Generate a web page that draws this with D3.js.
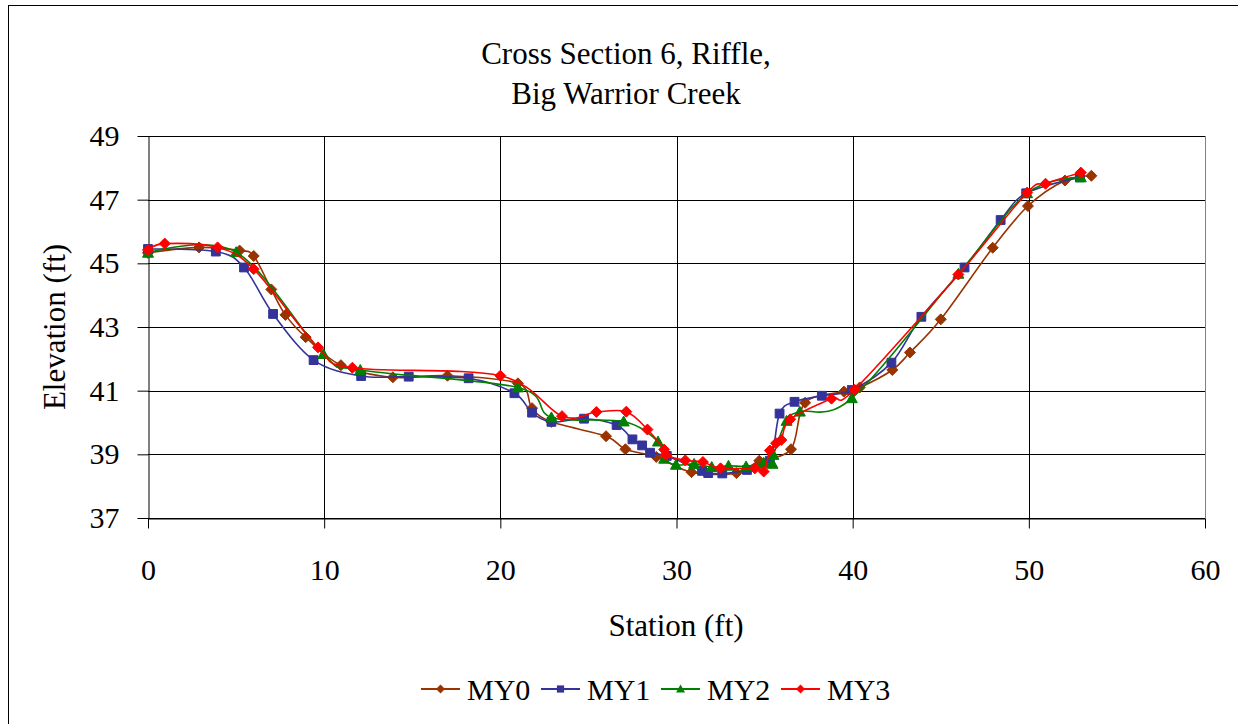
<!DOCTYPE html>
<html>
<head>
<meta charset="utf-8">
<script src="https://cdn.jsdelivr.net/npm/d3@7"></script>
<style>
  html, body { margin: 0; padding: 0; background: #fff; }
  svg, svg text { font-family: "Liberation Serif", "Times New Roman", Times, "DejaVu Serif", serif !important; }
</style>
</head>
<body>
<svg id="chart" width="1238" height="724"></svg>
<script>
// Station (ft), elevation (ft) pairs
const my0 = [[0,45.33],[2.9,45.5],[5.2,45.4],[6.0,45.23],[7.0,44.18],[7.8,43.38],[8.95,42.68],[10.95,41.8],[13.9,41.42],[17.0,41.47],[21.0,41.23],[21.8,40.45],[22.9,40.02],[26.0,39.57],[27.1,39.16],[28.85,38.92],[30.85,38.44],[33.4,38.41],[34.7,38.8],[36.5,39.16],[37.3,40.62],[39.5,40.97],[40.4,41.1],[42.25,41.65],[43.25,42.2],[45.0,43.24],[47.95,45.49],[49.95,46.8],[52.05,47.6],[53.55,47.75]];
const my1 = [[0,45.45],[3.85,45.37],[5.45,44.87],[7.1,43.41],[9.4,41.96],[12.1,41.46],[14.8,41.44],[18.2,41.39],[20.8,40.92],[21.8,40.31],[22.9,40.02],[24.75,40.12],[26.6,39.92],[27.5,39.47],[28.05,39.28],[28.5,39.05],[29.45,38.95],[31.45,38.48],[31.8,38.41],[32.6,38.4],[34.0,38.51],[35.3,38.8],[35.85,40.28],[36.7,40.65],[38.25,40.84],[39.95,41.02],[42.2,41.88],[43.9,43.32],[46.35,44.87],[48.4,46.36],[49.85,47.2],[52.9,47.7]];
const my2 = [[0,45.33],[5.0,45.35],[9.95,42.15],[12.05,41.65],[21.0,41.1],[22.9,40.16],[27.0,40.03],[28.95,39.4],[29.3,38.86],[29.97,38.67],[31.0,38.7],[32.0,38.6],[32.95,38.64],[33.95,38.62],[34.95,38.73],[35.45,38.7],[35.5,38.98],[36.25,40.05],[37.0,40.34],[39.95,40.76],[46.0,44.67],[49.9,47.2],[52.95,47.7]];
const my3 = [[0,45.42],[0.95,45.62],[3.95,45.5],[6.0,44.82],[9.65,42.36],[11.6,41.72],[20.0,41.47],[23.5,40.2],[25.45,40.33],[27.15,40.34],[28.35,39.78],[29.3,39.15],[29.4,38.98],[30.5,38.81],[31.5,38.76],[32.5,38.56],[34.45,38.56],[34.95,38.46],[35.3,39.12],[35.65,39.35],[35.95,39.45],[36.45,40.1],[38.8,40.75],[40.1,41.03],[46.0,44.65],[49.9,47.22],[50.95,47.5],[52.95,47.85]];

const seriesNames = ["MY0", "MY1", "MY2", "MY3"];
const seriesData = [my0, my1, my2, my3];
const seriesColors = ["#993300", "#333399", "#008000", "#ff0000"];
const seriesShapes = ["diamond", "square", "triangle", "diamond"];

const xTicks = [0, 10, 20, 30, 40, 50, 60];
const yTicks = [37, 39, 41, 43, 45, 47, 49];
const titleLines = ["Cross Section 6, Riffle,", "Big Warrior Creek"];

const FONT = "'Liberation Serif', 'Times New Roman', Times, 'DejaVu Serif', serif";

const svg = d3.select("#chart");
const plot = { left: 148, right: 1205, top: 136, bottom: 518 };

const x = d3.scaleLinear().domain([0, 60]).range([plot.left, plot.right]);
const y = d3.scaleLinear().domain([37, 49]).range([plot.bottom, plot.top]);

// spreadsheet-style markers: square diamond, square, triangle
function markerPath(shape, r) {
  const p = d3.path();
  if (shape === "diamond") {
    p.moveTo(0, -r); p.lineTo(r, 0); p.lineTo(0, r); p.lineTo(-r, 0);
  } else if (shape === "square") {
    const h = r * 0.8;
    p.rect(-h, -h, 2 * h, 2 * h);
  } else {
    p.moveTo(0, -r); p.lineTo(r, r * 0.8); p.lineTo(-r, r * 0.8);
  }
  p.closePath();
  return p.toString();
}

// outer chart frame (only top/left edges fall inside the window)
svg.append("rect")
  .attr("x", 8.5).attr("y", 5.5)
  .attr("width", 1300).attr("height", 800)
  .attr("fill", "none").attr("stroke", "#000").attr("stroke-width", 1);

// title
svg.append("g").selectAll("text")
  .data(titleLines)
  .join("text")
  .attr("x", 626)
  .attr("y", (d, i) => 64 + i * 39.5)
  .attr("text-anchor", "middle")
  .attr("font-family", FONT)
  .attr("font-size", 31)
  .text((d) => d);

// gridlines
svg.append("g").selectAll("line")
  .data(yTicks)
  .join("line")
  .attr("x1", plot.left).attr("x2", plot.right)
  .attr("y1", (d) => Math.round(y(d)) + 0.5).attr("y2", (d) => Math.round(y(d)) + 0.5)
  .attr("stroke", "#000").attr("stroke-width", 1);

svg.append("g").selectAll("line")
  .data(xTicks.slice(1))
  .join("line")
  .attr("x1", (d) => Math.round(x(d)) + 0.5).attr("x2", (d) => Math.round(x(d)) + 0.5)
  .attr("y1", plot.top).attr("y2", plot.bottom)
  .attr("stroke", (d) => d === 60 ? "#808080" : "#000").attr("stroke-width", 1);

// axes
const xAxis = d3.axisBottom(x).tickValues(xTicks).tickSize(10).tickSizeOuter(0).tickPadding(28);
const yAxis = d3.axisLeft(y).tickValues(yTicks).tickSize(11).tickSizeOuter(0).tickPadding(18);

const gx = svg.append("g")
  .attr("transform", `translate(0,${plot.bottom + 0.5})`)
  .call(xAxis);
const gy = svg.append("g")
  .attr("transform", `translate(${plot.left + 0.5},0)`)
  .call(yAxis);

[gx, gy].forEach((g) => {
  g.attr("font-family", FONT).attr("font-size", 30);
  g.select(".domain").attr("stroke", "#000");
  g.selectAll(".tick line").attr("stroke", "#000");
  g.selectAll(".tick text").attr("fill", "#000");
});
gx.selectAll(".tick text").attr("y", 0).attr("dy", null)
  .attr("transform", "translate(0,61)");

// axis titles
svg.append("text")
  .attr("x", 676).attr("y", 636)
  .attr("text-anchor", "middle")
  .attr("font-family", FONT)
  .attr("font-size", 31)
  .text("Station (ft)");

svg.append("text")
  .attr("transform", `translate(65,327) rotate(-90)`)
  .attr("text-anchor", "middle")
  .attr("font-family", FONT)
  .attr("font-size", 31)
  .text("Elevation (ft)");

// smoothed lines, like the spreadsheet's "smoothed line" option
const line = d3.line()
  .x((d) => x(d[0]))
  .y((d) => y(d[1]))
  .curve(d3.curveCardinal.tension(0));

seriesData.forEach((data, i) => {
  const g = svg.append("g");
  g.append("path")
    .datum(data)
    .attr("d", line)
    .attr("fill", "none")
    .attr("stroke", seriesColors[i])
    .attr("stroke-width", 1.6);

  g.selectAll("path.marker")
    .data(data)
    .join("path")
    .attr("class", "marker")
    .attr("transform", (d) => `translate(${x(d[0])},${y(d[1])})`)
    .attr("d", markerPath(seriesShapes[i], 5.5))
    .attr("fill", seriesColors[i])
    .attr("stroke", seriesColors[i])
    .attr("stroke-width", 1)
    .attr("stroke-linejoin", "miter");
});

// legend
const legend = svg.append("g")
  .selectAll("g")
  .data(seriesNames)
  .join("g")
  .attr("transform", (d, i) => `translate(${421 + i * 120},689)`);

legend.append("line")
  .attr("x1", 0).attr("x2", 39)
  .attr("stroke", (d, i) => seriesColors[i])
  .attr("stroke-width", 2);

legend.append("path")
  .attr("transform", "translate(19.5,0)")
  .attr("d", (d, i) => markerPath(seriesShapes[i], 4.5))
  .attr("fill", (d, i) => seriesColors[i]);

legend.append("text")
  .attr("x", 46).attr("y", 0)
  .attr("dy", "0.35em")
  .attr("font-family", FONT)
  .attr("font-size", 30)
  .text((d) => d);
</script>
</body>
</html>
